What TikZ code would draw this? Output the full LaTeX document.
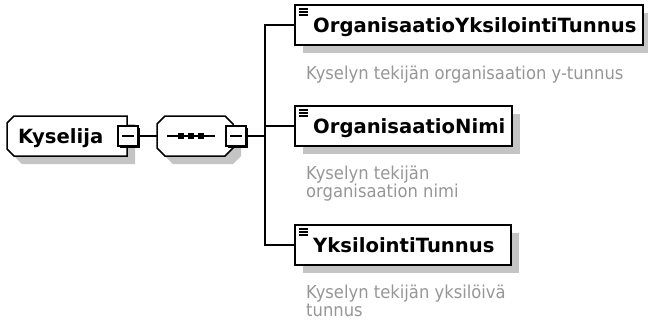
\documentclass[tikz,border=0pt]{standalone}
\usepackage{fontspec}
\setmainfont{DejaVu Sans}
\newfontfamily\descfont[FakeStretch=0.92]{DejaVu Sans}
\usetikzlibrary{calc,shadows}
\definecolor{shadegray}{RGB}{196,196,196}
\definecolor{descgray}{RGB}{150,150,150}
\begin{document}
\begin{tikzpicture}[x=1pt,y=-1pt,
  frame/.style={inner sep=0pt, outer sep=0pt, anchor=north west, minimum height=40pt},
  dshadow/.style={drop shadow={shadow xshift=8pt, shadow yshift=-8pt, opacity=1, fill=shadegray}},
  outline/.style={draw=black, line width=1.5pt, fill=white, line join=miter, dshadow},
  lbl/.style={font=\bfseries\fontsize{19.6}{24}\selectfont, inner sep=0pt, anchor=base west},
  descr/.style={font=\descfont\fontsize{17.8}{20}\selectfont, text=descgray, inner sep=0pt, anchor=base west},
  conn/.style={draw=black, line width=1.4pt},
  minusbox/.style={draw=black, line width=1.1pt, fill=white, minimum size=20pt, inner sep=0pt, outer sep=0pt},
  icon/.style={line width=1.1pt}
]
\useasboundingbox (0,0) rectangle (648,322);

% invisible frames
\node[frame, minimum width=120pt] (kys) at (7,116) {};
\node[frame, minimum width=76pt] (seq) at (157,116) {};
\coordinate (br) at (265,136);

% Kyselija element (chamfered left corners)
\path[outline] ($(kys.north west)+(7,0)$) -- (kys.north east) -- (kys.south east)
  -- ($(kys.south west)+(7,0)$) -- ($(kys.south west)+(0,-7)$) -- ($(kys.north west)+(0,7)$) -- cycle;
\node[lbl] (kyst) at (18,143) {Kyselija};

% sequence compositor (octagon)
\path[outline] ($(seq.north west)+(8,0)$) -- ($(seq.north east)+(-8,0)$) -- ($(seq.north east)+(0,8)$)
  -- ($(seq.south east)+(0,-8)$) -- ($(seq.south east)+(-8,0)$) -- ($(seq.south west)+(8,0)$)
  -- ($(seq.south west)+(0,-8)$) -- ($(seq.north west)+(0,8)$) -- cycle;
\draw[line width=1.4pt] ($(seq.west)+(10,0)$) -- ($(seq.west)+(58,0)$);
\foreach \dx in {24,34,44}{
  \fill ($(seq.west)+(\dx,0)+(-2.8,-2.8)$) rectangle ($(seq.west)+(\dx,0)+(2.8,2.8)$);
}

% child elements
\node[frame, minimum width=348pt, outline] (b1) at (295,5) {};
\node[frame, minimum width=217pt, outline] (b2) at (295,106) {};
\node[frame, minimum width=216pt, outline] (b3) at (295,225) {};
\foreach \b in {b1,b2,b3}{
  \foreach \dy in {4,7,10}{
    \draw[icon] ($(\b.north west)+(4,\dy)$) -- ($(\b.north west)+(13,\dy)$);
  }
}
\node[lbl] (t1) at (313,32) {OrganisaatioYksilointiTunnus};
\node[lbl] (t2) at (313,133) {OrganisaatioNimi};
\node[lbl] (t3) at (313,252) {YksilointiTunnus};

% descriptions
\node[descr] (d1) at (306,79) {Kyselyn tekijän organisaation y-tunnus};
\node[descr] (d2a) at (306,179) {Kyselyn tekijän};
\node[descr] (d2b) at (306,197) {organisaation nimi};
\node[descr] (d3a) at (306,298) {Kyselyn tekijän yksilöivä};
\node[descr] (d3b) at (306,316) {tunnus};

% minus (collapse) boxes
\node[minusbox] (kysm) at (128,136) {};
\node[minusbox] (seqm) at (236,136) {};
\foreach \m in {kysm,seqm}{
  \draw[line width=1.8pt] ($(\m.north east)+(1.2,2)$) -- ($(\m.south east)+(1.2,1.2)$) -- ($(\m.south west)+(2,1.2)$);
  \draw[line width=1.1pt] ($(\m.center)+(-6,0)$) -- ($(\m.center)+(6,0)$);
}

% connectors
\draw[conn] (kysm.east) -- (seq.west);
\draw[conn] (seqm.east) -- (br);
\draw[conn] (b1.west) -| (br) |- (b3.west);
\draw[conn] (br |- b2.west) -- (b2.west);
\end{tikzpicture}
\end{document}
